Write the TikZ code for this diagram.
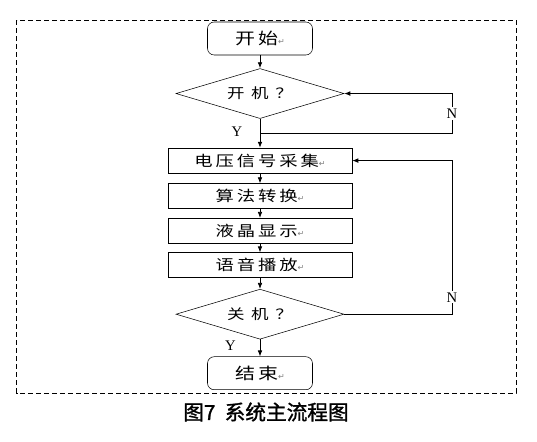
\documentclass[tikz,border=0pt]{standalone}
\usepackage{fontspec}
\setmainfont{Liberation Serif}
\newfontfamily\cjk[FakeStretch=1.25,LetterSpace=20]{Noto Sans CJK SC}
\newfontfamily\cjkcap[FakeBold=1.3]{Noto Sans CJK SC}
\newfontfamily\dejavu{DejaVu Sans}
\usetikzlibrary{arrows.meta,positioning,shapes.geometric,calc}
\newcommand\retmark{{\dejavu\fontsize{6}{6}\selectfont\textcolor{gray}{↵}}}
\tikzset{
terminal/.style={draw,rounded corners=5pt,minimum width=78.75pt,minimum height=24.75pt,inner sep=0pt,align=center,font=\cjk\fontsize{12}{13}\selectfont},
stepbox/.style={draw,minimum width=138pt,minimum height=18.75pt,inner sep=0pt,align=center,font=\cjk\fontsize{11}{12}\selectfont},
decision/.style={draw,diamond,aspect=3.36,minimum width=126pt,minimum height=37.5pt,inner sep=0pt,align=center,font=\cjk\fontsize{10.5}{12}\selectfont},
flow/.style={-{Latex[length=4.5pt,width=3.5pt]},line width=.6pt},
yn/.style={inner sep=1pt,font=\fontsize{11}{12}\selectfont},
frame/.style={line width=.7pt,dash pattern=on 3.75pt off 2.25pt}
}
\begin{document}
\begin{tikzpicture}[x=0.75pt,y=-0.75pt]
\useasboundingbox (0,0) rectangle (537,442);
\draw[frame] (16.5,20.5) rectangle (516,393);
\node[terminal] (start) at (260,38.5) {开始\retmark};
\node[decision,below=9.75pt of start] (on) {开 机 ？};
\node[stepbox,below=21.75pt of on] (adc) {电压信号采集\retmark};
\node[stepbox,below=7.5pt of adc] (calc) {算法转换\retmark};
\node[stepbox,below=6.75pt of calc] (lcd) {液晶显示\retmark};
\node[stepbox,below=6.75pt of lcd] (voice) {语音播放\retmark};
\node[decision,below=8.25pt of voice] (off) {关 机 ？};
\node[terminal,below=12.75pt of off] (stop) {结束\retmark};
\node[font=\cjkcap\fontsize{15.5}{17}\selectfont] (cap) at (266,412) {图7\ \ 系统主流程图};
\coordinate (rx) at (452,0);
\coordinate (j1) at ($(on.south)!0.5!(adc.north)$);
\draw[flow](start)--(on);
\draw[flow](on)--node[yn,pos=0.45,left=12pt]{Y}(adc);
\draw[flow](adc)--(calc);
\draw[flow](calc)--(lcd);
\draw[flow](lcd)--(voice);
\draw[flow](voice)--(off);
\draw[flow](off)--node[yn,pos=0.35,left=17pt]{Y}(stop);
\draw[flow](j1)--(j1 -| rx)--node[yn,fill=white,pos=0.5]{N}(on.east -| rx)--(on.east);
\draw[flow](off.east)--(off.east -| rx)--node[yn,fill=white,pos=0.11]{N}(adc.east -| rx)--(adc.east);
\end{tikzpicture}
\end{document}
